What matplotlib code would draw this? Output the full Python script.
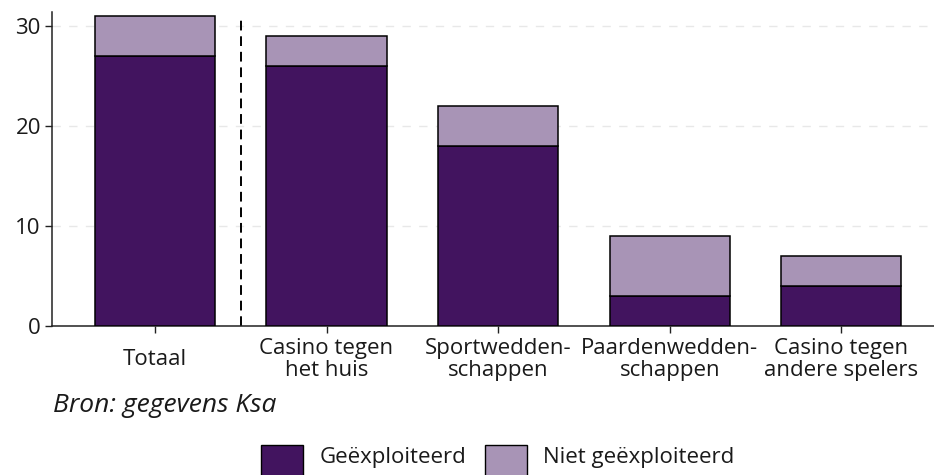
import numpy as np
import matplotlib
matplotlib.use("Agg")
import matplotlib.pyplot as plt
from matplotlib.patches import Rectangle

plt.rcParams['font.family'] = ['Open Sans', 'DejaVu Sans']

# data
categories = ['Totaal', 'Casino tegen\nhet huis', 'Sportwedden-\nschappen',
              'Paardenwedden-\nschappen', 'Casino tegen\nandere spelers']
geexploiteerd = [27, 26, 18, 3, 4]
niet_geexploiteerd = [4, 3, 4, 6, 3]
yticks = [0, 10, 20, 30]
series_labels = ['Geëxploiteerd', 'Niet geëxploiteerd']
source_text = 'Bron: gegevens Ksa'

dark = '#42145f'
light = '#a894b6'
txt = '#1a1a1a'

W, H = 934, 475
fig = plt.figure(figsize=(W / 100, H / 100), dpi=100)
ax = fig.add_axes([52 / W, 1 - 326 / H, 1 - 52 / W, (326 - 12) / H])

x = np.arange(len(categories))
ax.bar(x, geexploiteerd, width=0.7, color=dark, edgecolor='black', linewidth=1.1, zorder=3)
ax.bar(x, niet_geexploiteerd, width=0.7, bottom=geexploiteerd, color=light,
       edgecolor='black', linewidth=1.1, zorder=3)

# separator between total and the categories
ax.axvline(0.5, ymax=0.98, color='black', linestyle=(0, (5, 3)), linewidth=1.4, zorder=2)

ax.set_xlim(-0.6, 4.54)
ax.set_ylim(0, 31.4)
ax.set_yticks(yticks)
ax.yaxis.grid(True, color='#e8e8e8', linestyle=(0, (6, 6)), linewidth=1, zorder=0)

for s in ['top', 'right']:
    ax.spines[s].set_visible(False)
for s in ['left', 'bottom']:
    ax.spines[s].set_linewidth(1.1)
    ax.spines[s].set_color('#222222')

ax.set_xticks(x)
ax.set_xticklabels(categories, fontsize=16, color=txt, linespacing=1.1)
for lbl in ax.get_xticklabels():
    lbl.set_va('center')
ax.tick_params(axis='x', length=5, width=1, pad=19, color='#222222')
ax.tick_params(axis='y', length=5, width=1, pad=3, labelsize=16, labelcolor=txt, color='#222222')

fig.text(53 / W, 1 - 412 / H, source_text, fontsize=19, style='italic', color=txt, va='baseline')

# legend, drawn by hand so the boxes run off the bottom edge like the original
for bx, tx, col, lab in [(261, 320, dark, series_labels[0]), (485, 543, light, series_labels[1])]:
    fig.patches.append(Rectangle((bx / W, 1 - 487 / H), 42 / W, 42 / H, transform=fig.transFigure,
                                 facecolor=col, edgecolor='black', linewidth=1, clip_on=False))
    fig.text(tx / W, 1 - 463 / H, lab, fontsize=16, color=txt, va='baseline')

fig.savefig('out.png', dpi=100)
